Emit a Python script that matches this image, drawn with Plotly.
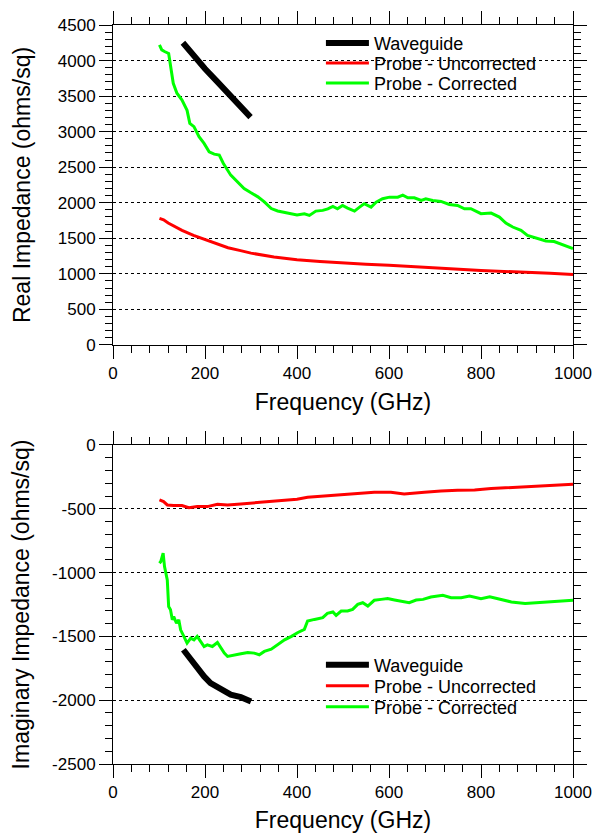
import plotly.graph_objects as go

# ---- Real part (ohms/sq) ----
wg_re_f = [152, 175, 200, 225, 250, 275, 299]
wg_re_v = [4250, 4065, 3885, 3715, 3550, 3385, 3205]

unc_re_f = [101, 110, 120, 135, 150, 175, 200, 225, 250, 275, 300, 350, 400,
            450, 500, 550, 600, 650, 700, 750, 800, 850, 900, 950, 1000]
unc_re_v = [1780, 1760, 1716, 1660, 1613, 1542, 1481, 1425, 1368, 1330, 1292,
            1237, 1200, 1175, 1152, 1135, 1120, 1100, 1080, 1062, 1047, 1035,
            1024, 1008, 990]

cor_re_f = [101, 106, 112, 121, 131, 139, 150, 161, 167, 176, 187, 198, 209,
            220, 231, 240, 256, 271, 285, 300, 315, 329, 344, 358, 373, 388,
            400, 416, 427, 441, 456, 467, 478, 488, 499, 510, 525, 536, 546,
            561, 572, 586, 601, 619, 630, 641, 655, 670, 680, 695, 713, 731,
            749, 764, 778, 800, 822, 840, 854, 869, 887, 901, 923, 941, 959,
            981, 1000]
cor_re_v = [4221, 4150, 4127, 4100, 3680, 3540, 3445, 3300, 3116, 3070, 2930,
            2835, 2717, 2684, 2670, 2552, 2388, 2294, 2200, 2140, 2083, 2013,
            1919, 1885, 1862, 1838, 1828, 1846, 1822, 1883, 1893, 1915, 1949,
            1916, 1963, 1925, 1883, 1939, 1986, 1939, 2009, 2056, 2079, 2079,
            2107, 2070, 2070, 2033, 2056, 2033, 2019, 1977, 1963, 1916, 1916,
            1846, 1855, 1799, 1715, 1659, 1612, 1542, 1495, 1463, 1454, 1402,
            1356]

# ---- Imaginary part (ohms/sq) ----
wg_im_f = [153, 169, 183, 198, 212, 234, 256, 278, 296, 300]
wg_im_v = [-1605, -1683, -1741, -1814, -1866, -1918, -1957, -1976, -1997, -2010]

unc_im_f = [101, 110, 118, 132, 150, 165, 183, 205, 227, 249, 278, 307, 337,
            373, 400, 423, 459, 496, 532, 568, 604, 633, 677, 713, 749, 786,
            822, 858, 894, 930, 967, 1000]
unc_im_v = [-431, -444, -470, -475, -475, -491, -483, -483, -465, -470, -462,
            -452, -444, -431, -425, -410, -399, -392, -378, -371, -371, -384,
            -371, -360, -355, -352, -342, -334, -326, -318, -310, -308]

cor_im_f = [101, 104, 109, 112, 118, 121, 125, 129, 132, 138, 143, 147, 154,
            161, 169, 176, 183, 191, 198, 205, 216, 227, 234, 242, 249, 264,
            278, 293, 307, 318, 329, 344, 358, 373, 388, 401, 416, 423, 438,
            456, 466, 478, 485, 496, 510, 521, 532, 543, 554, 568, 583, 597,
            612, 626, 644, 659, 674, 691, 717, 735, 757, 775, 800, 819, 837,
            866, 896, 925, 961, 1000]
cor_im_v = [-927, -913, -848, -953, -1057, -1266, -1292, -1370, -1344, -1396,
            -1370, -1449, -1500, -1553, -1514, -1527, -1500, -1540, -1579,
            -1566, -1579, -1548, -1592, -1631, -1657, -1644, -1636, -1626,
            -1631, -1644, -1618, -1600, -1566, -1527, -1500, -1471, -1445,
            -1380, -1367, -1353, -1319, -1309, -1335, -1301, -1301, -1288,
            -1249, -1236, -1262, -1217, -1210, -1204, -1215, -1223, -1236,
            -1215, -1210, -1191, -1178, -1197, -1197, -1183, -1204, -1189,
            -1204, -1230, -1243, -1236, -1228, -1217]

x_ticks = [0, 200, 400, 600, 800, 1000]
re_ticks = [0, 500, 1000, 1500, 2000, 2500, 3000, 3500, 4000, 4500]
im_ticks = [-2500, -2000, -1500, -1000, -500, 0]

FONT = "Liberation Sans, Arial, sans-serif"
names = ["Waveguide", "Probe - Uncorrected", "Probe - Corrected"]
colors = ["#000000", "#ff0000", "#00ff00"]
widths = [6, 3, 3]

# one single-entry legend per trace so the rows sit tight together
top_legends = ["legend", "legend2", "legend3"]
bot_legends = ["legend4", "legend5", "legend6"]
top_rows = [0.9752, 0.9482, 0.9211]
bot_rows = [0.1340, 0.1056, 0.0771]
LEG_X = 0.452

fig = go.Figure()
top = [(wg_re_f, wg_re_v), (unc_re_f, unc_re_v), (cor_re_f, cor_re_v)]
bot = [(wg_im_f, wg_im_v), (unc_im_f, unc_im_v), (cor_im_f, cor_im_v)]
for (fx, fy), n, c, w, lg in zip(top, names, colors, widths, top_legends):
    fig.add_trace(go.Scatter(x=fx, y=fy, mode="lines", name=n,
                             line=dict(color=c, width=w),
                             xaxis="x", yaxis="y", legend=lg))
for (fx, fy), n, c, w, lg in zip(bot, names, colors, widths, bot_legends):
    fig.add_trace(go.Scatter(x=fx, y=fy, mode="lines", name=n,
                             line=dict(color=c, width=w),
                             xaxis="x2", yaxis="y2", legend=lg))

common_axis = dict(
    showline=True, linecolor="black", linewidth=1, mirror="allticks",
    ticks="outside", ticklen=13, tickwidth=1, tickcolor="black",
    tickfont=dict(family=FONT, size=17, color="black"),
    zeroline=False, automargin=False,
)
xaxis_style = dict(common_axis, range=[0, 1000], tickvals=x_ticks,
                   showgrid=False,
                   minor=dict(dtick=40, tick0=0, ticks="outside", ticklen=7,
                              tickcolor="black", showgrid=False),
                   title=dict(text="Frequency (GHz)", standoff=11,
                              font=dict(family=FONT, size=23, color="black")))
yaxis_style = dict(common_axis, showgrid=True, gridcolor="black",
                   gridwidth=1, griddash="dot",
                   minor=dict(dtick=100, tick0=0, ticks="outside", ticklen=7,
                              tickcolor="black", showgrid=False))

legend_style = dict(bgcolor="rgba(0,0,0,0)", borderwidth=0,
                    font=dict(family=FONT, size=18, color="black"),
                    xanchor="left", yanchor="middle", itemwidth=43,
                    x=LEG_X)

layout_legends = {}
for lg, yy in zip(top_legends + bot_legends, top_rows + bot_rows):
    layout_legends[lg] = dict(legend_style, y=yy)

fig.update_layout(
    width=595, height=833,
    margin=dict(l=113, r=22, t=25, b=69),
    paper_bgcolor="white", plot_bgcolor="white",
    showlegend=True,
    xaxis=dict(xaxis_style, domain=[0, 1], anchor="y"),
    yaxis=dict(yaxis_style, domain=[0.567, 1], range=[0, 4500],
               tickvals=re_ticks, anchor="x",
               title=dict(text="Real Impedance (ohms/sq)", standoff=20,
                          font=dict(family=FONT, size=23, color="black"))),
    xaxis2=dict(xaxis_style, domain=[0, 1], anchor="y2"),
    yaxis2=dict(yaxis_style, domain=[0, 0.4317], range=[-2500, 0],
                tickvals=im_ticks, ticktext=[str(v) for v in im_ticks],
                anchor="x2",
                title=dict(text="Imaginary Impedance (ohms/sq)", standoff=16,
                           font=dict(family=FONT, size=23, color="black"))),
    **layout_legends,
)

fig.write_html("out.html")
